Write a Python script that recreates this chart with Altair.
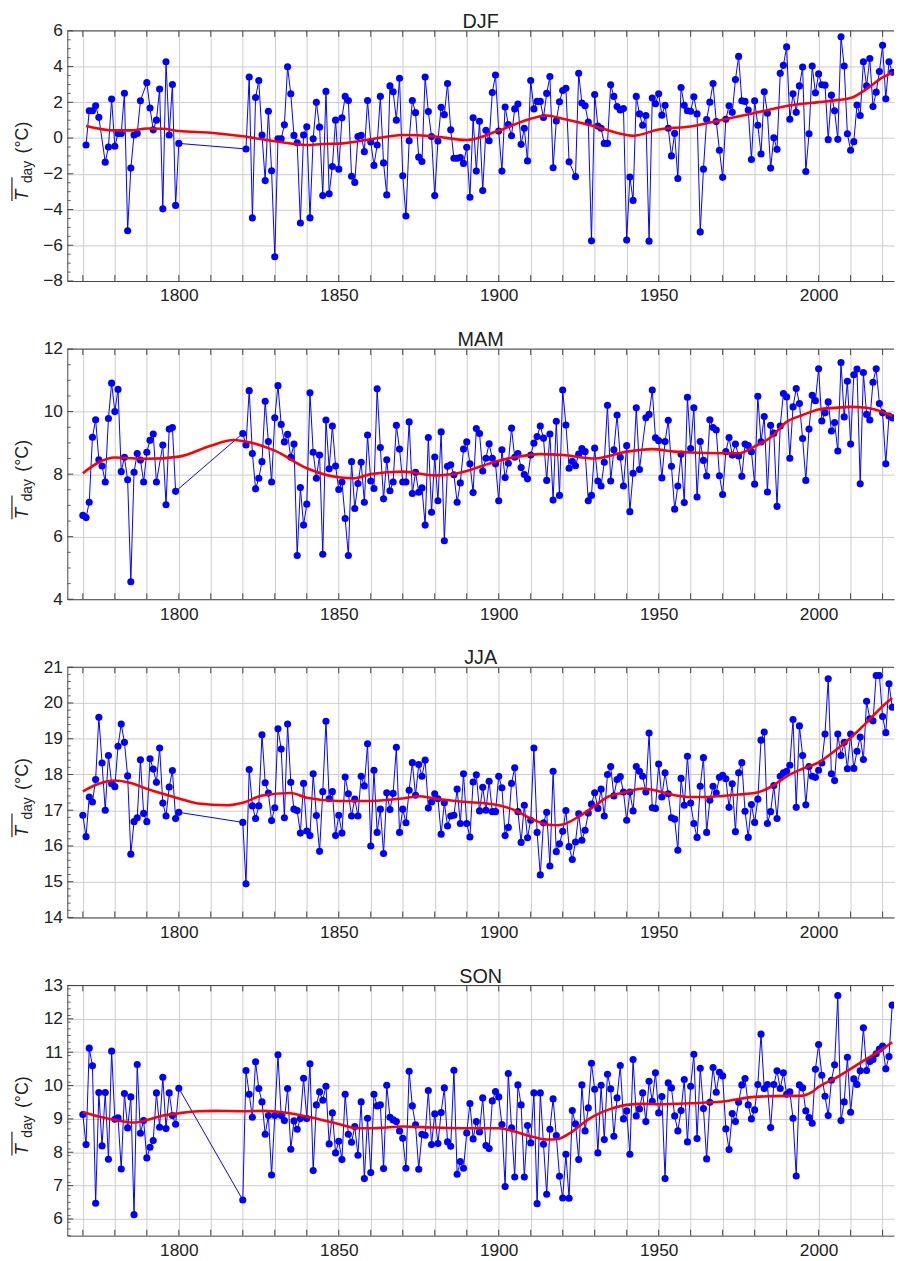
import altair as alt
import numpy as np
import pandas as pd

FONT = "Liberation Sans"
W, H = 836, 253
XMIN, XMAX = 1765.15, 2023.57


def span(*ranges):
    out = []
    for a, b in ranges:
        out += list(range(a, b + 1))
    return out


# ---------------- DJF ----------------
djf_years = span((1771, 1775), (1777, 1788), (1790, 1800), (1821, 1922), (1924, 2023))
djf_values = [
    -0.39, 1.53, 1.53, 1.81, 1.16, -1.35, -0.50, 2.18, -0.46, 0.26, 0.26, 2.51, -5.19, -1.68,
    0.17, 0.26, 2.09, 3.10, 1.68, 0.46, 1.00, 2.74, -3.96, 4.27, 0.17, 3.00, -3.77, -0.30,
    # 1821-1850
    -0.61, 3.42, -4.47, 2.27, 3.22, 0.17, -2.38, 1.50, -1.83, -6.64,
    -0.04, -0.04, 0.74, 3.99, 2.48, 0.15, -0.26, -4.75, 0.17, 0.63,
    -4.47, -0.04, 2.00, 0.61, -3.22, 2.61, -3.12, -1.59, 1.00, -1.74,
    # 1851-1922
    1.13, 2.33, 2.10, -2.14, -2.48, 0.09, 0.15, -0.76, 2.10, -0.22,
    -1.53, -0.39, 2.33, -1.39, -3.18, 2.92, 2.59, 1.00, 3.35, -2.11,
    -4.36, -0.15, 2.10, 1.42, -1.07, -1.31, 3.42, 1.48, 0.09, -3.22,
    -0.17, 1.72, 1.31, 3.05, 0.46, -1.13, -1.13, -1.09, -1.42, -0.52,
    -3.31, 1.13, -1.85, 0.94, -2.94, 0.44, -0.15, 2.55, 3.53, 0.39,
    -1.85, 1.74, 0.76, 0.13, 1.63, 1.90, -0.35, 0.55, -1.28, 3.22,
    1.63, 2.05, 2.05, 1.15, 2.50, 3.44, -1.66, 0.96, 2.03, 2.66,
    2.79, -1.33,
    # 1924-2023
    -2.16, 3.62, 1.96, 1.81, 0.89, -5.75, 2.44,
    0.67, 0.55, -0.30, -0.30, 2.98, 2.33, 1.76, 1.57, 1.65, -5.71,
    -2.18, -3.49, 2.33, 1.35, 0.72, 1.26, -5.77, 2.24, 1.92, 2.48,
    1.28, 1.83, 0.55, -1.00, 0.26, -2.26, 2.83, 1.83, 1.53, 1.50,
    2.31, 1.35, -5.25, -1.74, 1.04, 2.01, 3.05, 0.92, -0.68, -2.20,
    1.05, 1.81, 1.44, 3.27, 4.57, 2.09, 2.05, 1.57, -1.20, 2.09,
    0.72, -0.89, 2.59, 1.39, -1.68, 0.02, -0.63, 3.62, 4.07, 5.10,
    1.05, 2.48, 1.44, 2.92, 3.97, -1.87, 0.24, 4.03, 2.53, 3.59,
    2.98, 2.96, -0.09, 2.40, 1.53, -0.07, 5.67, 4.03, 0.24, -0.68,
    -0.20, 1.85, 1.26, 4.27, 2.92, 4.45, 1.76, 2.57, 3.72, 5.19,
    2.20, 4.27, 3.68,
]
djf_fit_years = [1771, 1780, 1785, 1790, 1795, 1800, 1810, 1820, 1830, 1840, 1845, 1850, 1860, 1870,
                 1880, 1890, 1900, 1910, 1915, 1920, 1930, 1940, 1942, 1950, 1960, 1970, 1980, 1990,
                 2000, 2005, 2010, 2015, 2020, 2023]
djf_fit_values = [0.68, 0.43, 0.43, 0.53, 0.52, 0.39, 0.30, 0.10, -0.18, -0.39, -0.33, -0.31, -0.07,
                  0.17, 0.09, -0.11, 0.42, 1.08, 1.26, 1.08, 0.66, 0.17, 0.13, 0.48, 0.65, 1.02, 1.40,
                  1.79, 2.01, 2.11, 2.24, 2.75, 3.40, 3.65]

# ---------------- MAM ----------------
mam_years = span((1770, 1793), (1795, 1799), (1820, 1944), (1946, 2023))
mam_values = [
    6.68, 6.61, 7.10, 9.18, 9.74, 8.46, 8.26, 7.75, 9.78, 10.91,
    10.00, 10.71, 8.08, 8.54, 7.82, 4.56, 8.06, 8.66, 8.45, 7.75,
    8.70, 9.08, 9.28, 7.75,
    8.93, 7.02, 9.44, 9.49, 7.45,
    # 1820-1944
    9.30, 8.93, 10.67, 8.66, 7.53, 7.87, 8.40, 10.33, 9.04, 7.75,
    9.80, 10.83, 9.59, 9.03, 9.27, 8.54, 8.96, 5.40, 7.57, 6.37,
    7.04, 10.60, 8.70, 7.87, 8.61, 5.44, 9.73, 8.17, 9.54, 8.26,
    7.51, 7.75, 6.58, 5.40, 8.40, 6.90, 7.70, 8.38, 7.10, 9.25,
    7.78, 7.54, 10.73, 8.85, 7.21, 8.46, 7.47, 7.75, 9.56, 8.80,
    7.75, 7.75, 9.67, 7.38, 8.06, 7.42, 7.56, 6.37, 9.17, 6.78,
    8.55, 7.15, 9.35, 5.87, 8.25, 8.30, 7.98, 7.10, 7.72, 8.80,
    9.03, 8.33, 7.41, 9.46, 9.30, 8.10, 8.51, 8.97, 8.51, 8.33,
    7.15, 8.78, 7.89, 8.35, 9.47, 8.54, 8.66, 8.21, 7.99, 7.85,
    8.61, 8.99, 9.20, 9.54, 9.15, 7.80, 9.28, 7.17, 9.69, 7.32,
    10.69, 9.57, 8.19, 8.41, 8.27, 8.64, 8.82, 8.72, 7.15, 7.32,
    8.83, 7.78, 7.62, 8.38, 10.20, 7.78, 8.78, 9.89, 8.54, 7.62,
    8.91, 6.80, 8.03, 10.12, 8.15,
    # 1946-2023
    9.80, 9.91, 10.69, 9.16,
    9.07, 7.88, 9.04, 9.72, 8.25, 6.88, 7.62, 8.64, 7.09, 10.46,
    8.82, 10.12, 7.27, 9.04, 8.44, 7.94, 9.74, 9.49, 9.41, 7.95,
    7.35, 8.72, 9.17, 8.61, 8.96, 8.58, 7.93, 8.96, 8.91, 8.72,
    7.68, 10.49, 9.03, 9.84, 7.43, 9.56, 9.31, 6.97, 9.54, 10.58,
    10.47, 8.51, 10.15, 10.74, 10.26, 9.14, 7.80, 9.44, 10.52, 10.35,
    11.37, 9.70, 9.96, 10.31, 9.38, 9.65, 8.74, 11.57, 9.83, 10.97,
    8.96, 11.18, 11.36, 7.69, 11.25, 9.91, 9.73, 10.94, 11.37, 10.26,
    9.96, 8.33, 9.86, 9.80,
]
mam_fit_years = [1770, 1775, 1780, 1790, 1800, 1810, 1817, 1820, 1830, 1840, 1850, 1855, 1860, 1870,
                 1880, 1890, 1895, 1900, 1905, 1913, 1920, 1930, 1940, 1948, 1955, 1960, 1970, 1975,
                 1980, 1985, 1990, 1995, 2000, 2005, 2010, 2015, 2020, 2023]
mam_fit_values = [8.03, 8.38, 8.53, 8.49, 8.56, 8.91, 9.09, 9.06, 8.75, 8.19, 7.90, 7.87, 8.00, 8.08,
                  7.96, 8.10, 8.27, 8.43, 8.54, 8.64, 8.61, 8.50, 8.72, 8.80, 8.72, 8.69, 8.67, 8.67,
                  8.89, 9.17, 9.67, 9.89, 10.07, 10.12, 10.15, 10.12, 9.99, 9.86]

# ---------------- JJA ----------------
jja_years = span((1770, 1800), (1820, 2023))
jja_values = [
    16.86, 16.26, 17.37, 17.23, 17.86, 19.60, 18.32, 17.00, 18.53, 17.74,
    17.66, 18.79, 19.41, 18.90, 17.96, 15.77, 16.68, 16.79, 18.41, 16.91,
    16.68, 18.44, 18.15, 17.78, 18.74, 17.20, 16.84, 17.65, 18.11, 16.77,
    16.94,
    # 1820-1850
    16.66, 14.94, 18.14, 17.12, 16.77, 17.12, 19.11, 17.77, 17.48, 16.71,
    17.07, 19.28, 18.71, 16.79, 19.41, 17.78, 17.03, 16.99, 16.36, 17.75,
    16.42, 16.29, 18.02, 16.85, 15.85, 17.52, 19.49, 17.32, 17.52, 16.29,
    16.86,
    # 1851-1930
    16.36, 17.93, 17.46, 16.84, 17.31, 16.84, 17.95, 17.68, 18.86, 16.00,
    18.12, 16.38, 17.03, 15.79, 17.49, 17.02, 17.47, 18.76, 16.38, 17.03,
    16.65, 17.56, 18.33, 17.42, 18.28, 17.95, 18.40, 17.06, 17.23, 17.46,
    17.32, 16.33, 17.21, 16.56, 16.84, 16.86, 17.59, 16.63, 18.02, 16.63,
    16.25, 17.79, 17.99, 16.98, 17.64, 17.00, 17.81, 16.96, 16.96, 17.95,
    17.63, 16.29, 16.52, 17.75, 18.19, 16.96, 16.10, 17.14, 16.23, 16.72,
    18.74, 16.38, 15.19, 16.65, 16.94, 15.44, 18.09, 15.84, 16.06, 16.41,
    16.99, 15.98, 15.62, 16.11, 16.90, 16.16, 16.44, 16.92, 17.17, 17.49,
    # 1931-2023
    17.05, 17.59, 16.84, 18.00, 18.22, 17.40, 17.86, 17.94, 17.51, 16.72,
    17.51, 16.98, 18.22, 18.09, 17.95, 17.51, 19.16, 17.07, 17.05, 18.29,
    17.37, 18.05, 17.46, 16.79, 16.75, 15.88, 17.89, 17.14, 18.51, 17.20,
    16.63, 16.24, 17.67, 18.47, 16.38, 17.28, 17.67, 17.48, 17.92, 17.98,
    17.88, 17.08, 17.74, 16.40, 18.05, 18.33, 16.97, 16.24, 17.16, 16.66,
    17.31, 18.96, 19.19, 16.63, 16.96, 17.69, 16.77, 17.95, 18.05, 18.09,
    18.26, 19.54, 17.08, 19.36, 18.53, 17.15, 18.22, 17.95, 17.92, 18.12,
    18.32, 19.13, 20.68, 18.02, 17.83, 19.13, 18.53, 18.90, 18.16, 19.13,
    18.17, 18.65, 19.05, 18.42, 20.05, 19.56, 19.50, 20.77, 20.77, 19.62,
    19.17, 20.54, 19.88,
]
jja_fit_years = [1770, 1775, 1780, 1785, 1790, 1795, 1800, 1806, 1815, 1820, 1826, 1835, 1840, 1850,
                 1860, 1870, 1875, 1880, 1890, 1895, 1900, 1905, 1910, 1915, 1918, 1920, 1925, 1930,
                 1934, 1940, 1945, 1950, 1955, 1960, 1965, 1970, 1975, 1980, 1985, 1990, 1995, 2000,
                 2005, 2010, 2015, 2020, 2023]
jja_fit_values = [17.53, 17.74, 17.83, 17.76, 17.60, 17.46, 17.33, 17.19, 17.14, 17.21, 17.41, 17.48,
                  17.35, 17.26, 17.26, 17.33, 17.39, 17.33, 17.23, 17.20, 17.14, 17.00, 16.77, 16.60,
                  16.58, 16.60, 16.82, 17.12, 17.37, 17.51, 17.61, 17.53, 17.42, 17.37, 17.37, 17.40,
                  17.44, 17.48, 17.65, 17.95, 18.16, 18.34, 18.66, 19.03, 19.45, 19.91, 20.14]

# ---------------- SON ----------------
son_years = span((1770, 1800), (1820, 2023))
son_values = [
    9.13, 8.23, 11.12, 10.59, 6.47, 9.79, 8.19, 9.79, 7.79, 11.03,
    8.99, 9.03, 7.50, 9.76, 8.73, 9.66, 6.13, 10.63, 8.57, 8.95,
    7.83, 8.15, 8.35, 9.78, 8.75, 10.25, 8.71, 9.78, 9.10, 8.84,
    9.92,
    # 1820-1850
    6.57, 10.45, 9.74, 9.05, 10.71, 9.91, 9.51, 8.54, 9.10, 7.32,
    9.10, 10.92, 9.10, 8.95, 9.91, 8.09, 8.94, 8.69, 9.01, 10.22,
    9.01, 10.65, 7.45, 9.42, 9.81, 9.56, 9.98, 8.25, 9.18, 7.98,
    8.33,
    # 1851-1930
    7.78, 9.74, 8.54, 8.30, 8.77, 7.91, 9.51, 7.21, 9.02, 7.39,
    9.74, 9.39, 9.42, 7.51, 10.01, 9.05, 8.97, 8.92, 8.64, 8.42,
    7.52, 10.43, 9.39, 8.82, 7.49, 8.54, 8.51, 9.85, 8.23, 9.15,
    8.26, 9.19, 9.93, 8.31, 8.18, 10.46, 7.34, 7.72, 7.52, 8.58,
    9.46, 8.40, 8.92, 8.61, 9.63, 8.20, 8.11, 9.54, 9.82, 9.66,
    8.83, 6.97, 10.36, 8.73, 7.26, 10.02, 9.42, 7.26, 8.80, 8.28,
    9.78, 6.46, 9.78, 8.24, 6.74, 8.69, 9.60, 8.50, 7.28, 6.63,
    7.94, 6.62, 9.25, 8.85, 7.78, 10.02, 8.64, 9.33, 10.67, 9.89,
    # 1931-2023
    7.98, 10.01, 8.38, 10.34, 9.90, 8.48, 9.63, 10.60, 9.00, 9.24,
    7.94, 10.78, 9.09, 9.30, 9.78, 8.92, 10.13, 9.53, 10.38, 9.18,
    9.67, 7.21, 10.08, 9.93, 9.09, 8.64, 9.25, 10.18, 8.31, 9.98,
    10.94, 8.41, 10.52, 9.31, 7.80, 9.50, 10.54, 9.80, 10.40, 10.29,
    8.70, 8.08, 9.16, 8.92, 9.50, 10.02, 10.21, 9.42, 9.00, 9.27,
    10.03, 11.54, 9.91, 10.03, 8.74, 10.03, 10.44, 9.91, 10.38, 9.74,
    9.81, 9.02, 7.29, 10.02, 9.93, 9.24, 9.04, 8.87, 10.49, 11.23,
    10.31, 9.68, 9.10, 10.16, 10.62, 12.70, 8.95, 9.51, 10.85, 9.20,
    10.20, 10.03, 10.44, 11.73, 10.45, 10.72, 10.78, 10.95, 11.09, 11.18,
    10.50, 10.87, 12.41,
]
son_fit_years = [1770, 1775, 1780, 1786, 1790, 1795, 1800, 1806, 1811, 1820, 1827, 1833, 1840, 1850,
                 1856, 1860, 1870, 1880, 1890, 1900, 1905, 1910, 1915, 1918, 1923, 1927, 1930, 1935,
                 1940, 1945, 1950, 1960, 1970, 1980, 1990, 1994, 1998, 2000, 2005, 2010, 2015, 2020,
                 2023]
son_fit_values = [9.21, 9.07, 8.97, 8.89, 8.97, 9.10, 9.17, 9.23, 9.24, 9.23, 9.24, 9.19, 9.07, 8.85,
                  8.72, 8.72, 8.77, 8.74, 8.72, 8.72, 8.62, 8.48, 8.38, 8.39, 8.62, 8.92, 9.10, 9.30,
                  9.42, 9.45, 9.44, 9.47, 9.52, 9.66, 9.69, 9.69, 9.81, 9.96, 10.21, 10.50, 10.80,
                  11.10, 11.30]

decades = list(range(1770, 2030, 10))
FRAME = "#444444"


def one(df_col, value):
    return pd.DataFrame({df_col: [value]})


def panel(title, years, values, fit_years, fit_values, ydom, yticks, yminor_step):
    n = min(len(years), len(values))
    pts = pd.DataFrame({"year": years[:n], "T": values[:n]})
    fit = pd.DataFrame({"year": fit_years, "T": fit_values})

    x = alt.X("year:Q",
              scale=alt.Scale(domain=[XMIN, XMAX], nice=False, zero=False),
              axis=alt.Axis(values=decades, tickCount=len(decades), title=None, grid=True,
                            labelOverlap=False,
                            labelExpr="datum.value % 50 == 0 ? format(datum.value, 'd') : ''"))
    y = alt.Y("T:Q",
              scale=alt.Scale(domain=ydom, nice=False, zero=False),
              axis=alt.Axis(values=yticks, tickCount=len(yticks), format="d", title=None,
                            grid=True, labelOverlap=False))

    line = alt.Chart(pts).mark_line(color="#0000ff", strokeWidth=1, clip=True).encode(x=x, y=y)
    dots = alt.Chart(pts).mark_circle(color="#0000ff", size=52, opacity=1, clip=True).encode(
        x="year:Q", y="T:Q")
    curve = alt.Chart(fit).mark_line(color="#ff0000", strokeWidth=2.6, interpolate="monotone",
                                     clip=True).encode(x="year:Q", y="T:Q")

    # frame: top edge and inward ticks
    top = alt.Chart(one("a", 0)).mark_rule(color=FRAME, strokeWidth=1).encode(
        x=alt.value(0), x2=alt.value(W), y=alt.value(0))
    ymaj = pd.DataFrame({"T": yticks})
    yminor = [v for v in np.arange(ydom[0], ydom[1] + 1e-9, yminor_step).round(3).tolist()
              if v not in yticks]
    ymin_df = pd.DataFrame({"T": yminor})
    ytk_major = alt.Chart(ymaj).mark_rule(color=FRAME, strokeWidth=1).encode(
        y="T:Q", x=alt.value(0), x2=alt.value(6))
    ytk_minor = alt.Chart(ymin_df).mark_rule(color=FRAME, strokeWidth=0.8).encode(
        y="T:Q", x=alt.value(0), x2=alt.value(3.5))
    xmaj = pd.DataFrame({"year": decades})
    xtk_bottom = alt.Chart(xmaj).mark_rule(color=FRAME, strokeWidth=1).encode(
        x="year:Q", y=alt.value(H), y2=alt.value(H - 6))
    xtk_top = alt.Chart(xmaj).mark_rule(color=FRAME, strokeWidth=1).encode(
        x="year:Q", y=alt.value(0), y2=alt.value(6))

    head = alt.Chart(one("s", title)).mark_text(
        align="center", baseline="alphabetic", font=FONT, fontSize=20, color="#222222").encode(
        text="s:N", x=alt.value(W / 2), y=alt.value(-3))

    t_main = alt.Chart(one("s", "T")).mark_text(
        angle=270, align="left", baseline="alphabetic", font=FONT, fontSize=19,
        fontStyle="italic", color="#222222").encode(
        text="s:N", x=alt.value(-40), y=alt.value(172))
    t_sub = alt.Chart(one("s", "day")).mark_text(
        angle=270, align="left", baseline="alphabetic", font=FONT, fontSize=14,
        color="#222222").encode(text="s:N", x=alt.value(-36), y=alt.value(154))
    t_unit = alt.Chart(one("s", "(°C)")).mark_text(
        angle=270, align="left", baseline="alphabetic", font=FONT, fontSize=18,
        color="#222222").encode(text="s:N", x=alt.value(-40), y=alt.value(124))
    bar = alt.Chart(one("a", 0)).mark_rule(color="#222222", strokeWidth=1.2).encode(
        x=alt.value(-56), y=alt.value(148), y2=alt.value(172))

    return alt.layer(line, dots, curve, top, ytk_major, ytk_minor, xtk_bottom, xtk_top,
                     head, t_main, t_sub, t_unit, bar).properties(width=W, height=H)


p1 = panel("DJF", djf_years, djf_values, djf_fit_years, djf_fit_values, [-8, 6],
           list(range(-8, 7, 2)), 0.5)
p2 = panel("MAM", mam_years, mam_values, mam_fit_years, mam_fit_values, [4, 12],
           list(range(4, 13, 2)), 0.5)
p3 = panel("JJA", jja_years, jja_values, jja_fit_years, jja_fit_values, [14, 21],
           list(range(14, 22)), 0.2)
p4 = panel("SON", son_years, son_values, son_fit_years, son_fit_values, [5.5, 13],
           list(range(6, 14)), 0.2)

chart = alt.vconcat(p1, p2, p3, p4, spacing=24.8).properties(
    padding={"left": 2, "top": -4, "right": 0, "bottom": 0}
).configure_view(stroke="transparent").configure_axis(
    labelFont=FONT, labelFontSize=17.5, labelColor="#222222", labelPadding=5,
    ticks=False, domain=True, domainColor=FRAME, domainWidth=1,
    gridColor="#cccccc", gridWidth=1
).configure_axisX(labelPadding=6)

chart.save("out.html", embed_options={"renderer": "svg", "actions": False})
